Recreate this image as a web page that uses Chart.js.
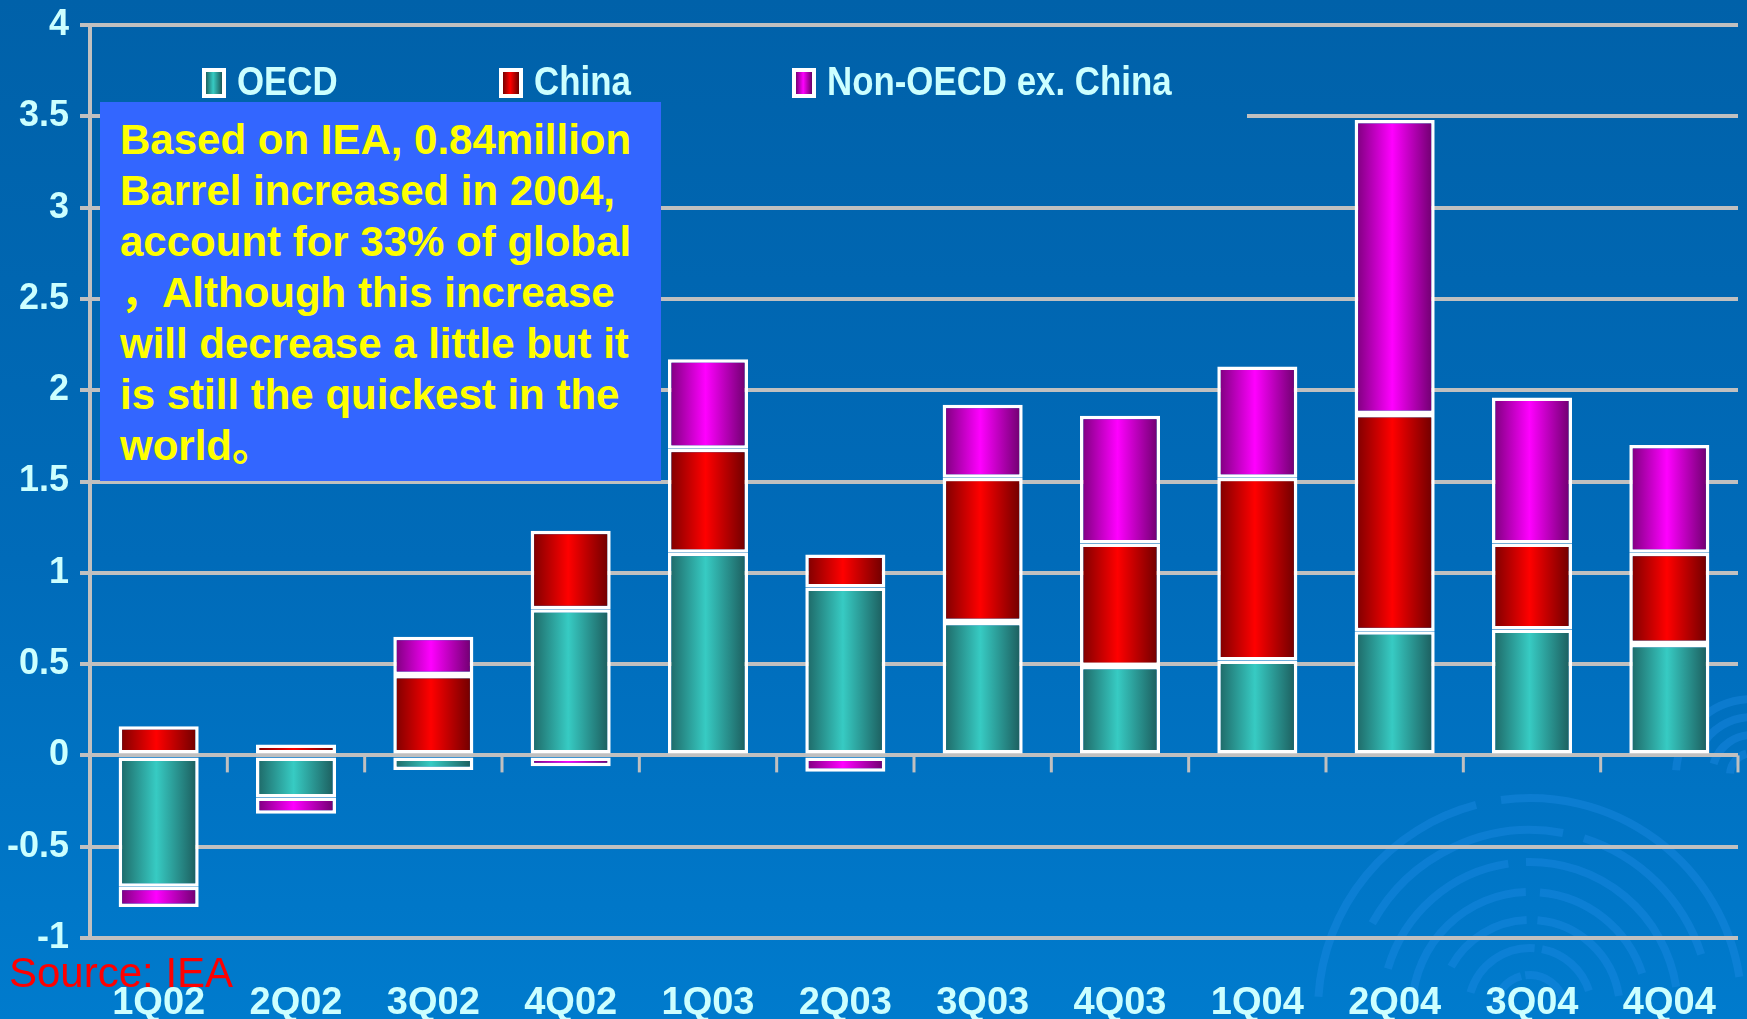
<!DOCTYPE html>
<html>
<head>
<meta charset="utf-8">
<script src="https://cdn.jsdelivr.net/npm/chart.js@4.4.1/dist/chart.umd.min.js"></script>
<style>
  html, body { margin: 0; padding: 0; overflow: hidden; background: #006aba; }
  #wrap { position: relative; width: 1747px; height: 1019px; }
  #c { position: absolute; left: 0; top: 0; }
  #note {
    position: absolute; left: 100px; top: 102px; width: 561px; height: 379px;
    background: #3366ff; box-sizing: border-box; padding: 12px 0 0 20px;
    color: #ffff00; font: bold 42px/51px "Liberation Sans", Arial, "Noto Sans CJK SC", sans-serif;
    white-space: nowrap;
  }
  #source {
    position: absolute; left: 9px; top: 952px; color: #ff0000;
    font: 42px/42px "Liberation Sans", Arial, sans-serif; white-space: nowrap;
  }
</style>
</head>
<body>
<div id="wrap">
  <canvas id="c" width="1747" height="1019"></canvas>
  <div id="note">Based on IEA, 0.84million<br>Barrel increased in 2004,<br>account for 33% of global<br>，Although this increase<br>will decrease a little but it<br>is still the quickest in the<br>world。</div>
  <div id="source">Source: IEA</div>
</div>
<script>
// ---- data ----
const categories = ['1Q02','2Q02','3Q02','4Q02','1Q03','2Q03','3Q03','4Q03','1Q04','2Q04','3Q04','4Q04'];
const oecd    = [-0.72, -0.23, -0.08, 0.80, 1.11, 0.92, 0.73, 0.49, 0.52, 0.68, 0.69, 0.61];
const china   = [ 0.16,  0.06,  0.44, 0.43, 0.57, 0.18, 0.79, 0.67, 1.00, 1.19, 0.47, 0.50];
const nonOecd = [-0.11, -0.09,  0.21, -0.06, 0.49, -0.09, 0.40, 0.70, 0.61, 1.61, 0.80, 0.59];
const seriesNames = ['OECD', 'China', 'Non-OECD ex. China'];
const yTickValues = [-1, -0.5, 0, 0.5, 1, 1.5, 2, 2.5, 3, 3.5, 4];

// ---- styles ----
const BAR_PCT = 0.583;
const gradStops = {
  OECD: ['#1d6463', '#37cbc3', '#1b5859'],
  China: ['#780000', '#ff0000', '#680000'],
  'Non-OECD ex. China': ['#780078', '#ff00ff', '#680068']
};
const LABEL_COLOR = '#ccffff';
const GRID_COLOR = '#c0c0c0';
const LABEL_FONT = "'Liberation Sans', Arial, sans-serif";

function barGradient(name) {
  return function (ctx) {
    const chart = ctx.chart;
    const stops = gradStops[name];
    const xs = chart.scales && chart.scales.x;
    if (!chart.chartArea || !xs || ctx.dataIndex === undefined) return stops[1];
    const cx = xs.getPixelForValue(ctx.dataIndex);
    const w = (xs.width / categories.length) * BAR_PCT;
    const g = chart.ctx.createLinearGradient(cx - w / 2, 0, cx + w / 2, 0);
    g.addColorStop(0, stops[0]);
    g.addColorStop(0.47, stops[1]);
    g.addColorStop(1, stops[2]);
    return g;
  };
}

let bgGrad = null;
function getBg(c) {
  const g = c.createLinearGradient(0, 0, 0, 1019);
  g.addColorStop(0, '#0061a9');
  g.addColorStop(0.55, '#006bb9');
  g.addColorStop(1, '#007bcd');
  return g;
}

const decoPlugin = {
  id: 'deco',
  beforeDraw(chart) {
    const c = chart.ctx;
    c.save();
    bgGrad = getBg(c);
    c.fillStyle = bgGrad;
    c.fillRect(0, 0, chart.width, chart.height);
    // faint broken swirl rings
    c.strokeStyle = 'rgba(30,140,230,0.40)';
    c.lineWidth = 8;
    const rings = [[1530, 1010, [35, 62, 90, 118, 148, 180, 212]], [1752, 775, [22, 40, 58, 76]]];
    rings.forEach(([x, y, rs]) => {
      rs.forEach((r, i) => {
        const a0 = Math.PI * (1.02 + 0.07 * (i % 3));
        const a1 = Math.PI * (1.95 - 0.05 * (i % 2));
        const mid = (a0 + a1) / 2 + 0.15 * ((i % 2) ? 1 : -1);
        c.beginPath(); c.arc(x, y, r, a0, mid - 0.06); c.stroke();
        c.beginPath(); c.arc(x, y, r, mid + 0.06, a1); c.stroke();
      });
    });
    c.restore();
  },
  beforeDatasetsDraw(chart) {
    const c = chart.ctx;
    const xs = chart.scales.x, ys = chart.scales.y;
    c.save();
    // legend background (hides part of the 3.5 gridline, as in the original)
    c.fillStyle = bgGrad;
    c.fillRect(100, 42, 1147, 80);
    // tick marks below the zero line at category boundaries
    const y0 = ys.getPixelForValue(0);
    c.strokeStyle = GRID_COLOR;
    c.lineWidth = 3;
    for (let i = 1; i <= categories.length; i++) {
      const x = xs.getPixelForValue(i - 0.5);
      c.beginPath();
      c.moveTo(x, y0);
      c.lineTo(x, y0 + 17);
      c.stroke();
    }
    // legend
    const lx = [202, 499, 792];
    chart.data.datasets.forEach((ds, i) => {
      const x = lx[i];
      c.fillStyle = '#ffffff';
      c.fillRect(x, 68, 24, 30);
      const st = gradStops[ds.label];
      const g = c.createLinearGradient(x + 4, 0, x + 20, 0);
      g.addColorStop(0, st[0]); g.addColorStop(0.45, st[1]); g.addColorStop(1, st[2]);
      c.fillStyle = g;
      c.fillRect(x + 4, 72, 16, 22);
      c.save();
      c.translate(x + 35, 84);
      c.scale(0.85, 1);
      c.fillStyle = LABEL_COLOR;
      c.font = 'bold 41px ' + LABEL_FONT;
      c.textBaseline = 'middle';
      c.textAlign = 'left';
      c.fillText(ds.label, 0, 0);
      c.restore();
    });
    c.restore();
  }
};

const mkSet = (name, data) => ({
  label: name,
  data: data,
  backgroundColor: barGradient(name),
  borderColor: '#ffffff',
  borderWidth: 3.5,
  borderSkipped: false,
  barPercentage: BAR_PCT,
  categoryPercentage: 1.0
});

new Chart(document.getElementById('c'), {
  type: 'bar',
  data: {
    labels: categories,
    datasets: [
      mkSet(seriesNames[0], oecd),
      mkSet(seriesNames[1], china),
      mkSet(seriesNames[2], nonOecd)
    ]
  },
  options: {
    responsive: false,
    animation: false,
    devicePixelRatio: 1,
    layout: { padding: { top: 25, right: 9, left: 0, bottom: 0 } },
    plugins: { legend: { display: false }, tooltip: { enabled: false } },
    scales: {
      x: {
        stacked: true,
        grid: { display: false, drawTicks: false },
        border: { display: false },
        ticks: { color: LABEL_COLOR, padding: 43, font: { family: LABEL_FONT, weight: 'bold', size: 38 }, maxRotation: 0, autoSkip: false },
        afterFit(s) { s.height = 81; s.paddingLeft = 0; s.paddingRight = 0; }
      },
      y: {
        stacked: true,
        min: -1, max: 4,
        afterBuildTicks(s) { s.ticks = yTickValues.map(v => ({ value: v })); },
        grid: { color: GRID_COLOR, lineWidth: 4, tickLength: 10, drawTicks: true },
        border: { display: true, color: GRID_COLOR, width: 4 },
        ticks: {
          color: LABEL_COLOR, padding: 11,
          font: { family: LABEL_FONT, weight: 'bold', size: 36 },
          callback: v => String(v)
        },
        afterFit(s) { s.width = 90; s.paddingTop = 0; s.paddingBottom = 0; }
      }
    }
  },
  plugins: [decoPlugin]
});
</script>
</body>
</html>
